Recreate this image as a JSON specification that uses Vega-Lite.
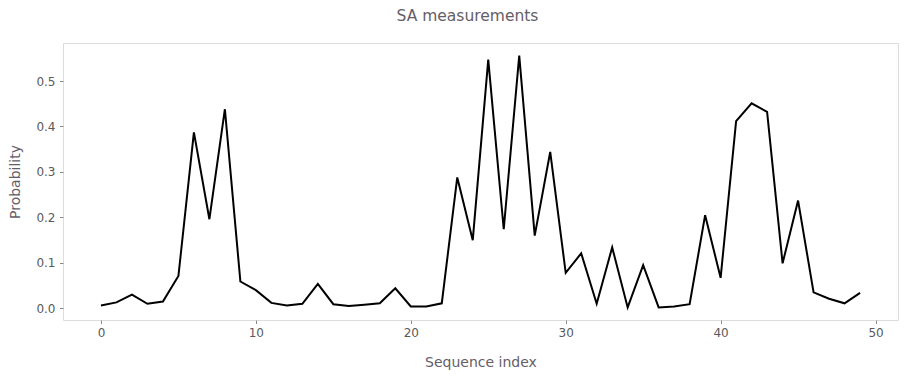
{
  "$schema": "https://vega.github.io/schema/vega-lite/v6.json",
  "autosize": "none",
  "width": 835,
  "height": 277,
  "padding": {"left": 63, "top": 43, "right": 8, "bottom": 56},
  "background": "white",
  "title": {
    "text": "SA measurements",
    "font": "DejaVu Sans",
    "fontSize": 15.5,
    "fontWeight": "normal",
    "color": "#655d67",
    "anchor": "middle",
    "baseline": "alphabetic",
    "offset": 7,
    "dx": -13
  },
  "data": {
    "values": [
      {"i": 0, "p": 0.006},
      {"i": 1, "p": 0.013},
      {"i": 2, "p": 0.030},
      {"i": 3, "p": 0.010},
      {"i": 4, "p": 0.015},
      {"i": 5, "p": 0.071},
      {"i": 6, "p": 0.387},
      {"i": 7, "p": 0.196},
      {"i": 8, "p": 0.438},
      {"i": 9, "p": 0.059},
      {"i": 10, "p": 0.040},
      {"i": 11, "p": 0.012},
      {"i": 12, "p": 0.006},
      {"i": 13, "p": 0.010},
      {"i": 14, "p": 0.054},
      {"i": 15, "p": 0.009},
      {"i": 16, "p": 0.005},
      {"i": 17, "p": 0.008},
      {"i": 18, "p": 0.011},
      {"i": 19, "p": 0.044},
      {"i": 20, "p": 0.004},
      {"i": 21, "p": 0.004},
      {"i": 22, "p": 0.011},
      {"i": 23, "p": 0.288},
      {"i": 24, "p": 0.150},
      {"i": 25, "p": 0.547},
      {"i": 26, "p": 0.174},
      {"i": 27, "p": 0.556},
      {"i": 28, "p": 0.160},
      {"i": 29, "p": 0.344},
      {"i": 30, "p": 0.078},
      {"i": 31, "p": 0.121},
      {"i": 32, "p": 0.010},
      {"i": 33, "p": 0.134},
      {"i": 34, "p": 0.002},
      {"i": 35, "p": 0.095},
      {"i": 36, "p": 0.002},
      {"i": 37, "p": 0.004},
      {"i": 38, "p": 0.009},
      {"i": 39, "p": 0.205},
      {"i": 40, "p": 0.067},
      {"i": 41, "p": 0.412},
      {"i": 42, "p": 0.451},
      {"i": 43, "p": 0.432},
      {"i": 44, "p": 0.099},
      {"i": 45, "p": 0.237},
      {"i": 46, "p": 0.035},
      {"i": 47, "p": 0.021},
      {"i": 48, "p": 0.011},
      {"i": 49, "p": 0.034}
    ]
  },
  "mark": {"type": "line", "color": "black", "strokeWidth": 2, "strokeJoin": "miter", "clip": true},
  "encoding": {
    "x": {
      "field": "i",
      "type": "quantitative",
      "scale": {"domain": [-2.45, 51.45], "nice": false, "zero": false},
      "axis": {
        "title": "Sequence index",
        "values": [0, 10, 20, 30, 40, 50],
        "format": "d",
        "titleBaseline": "alphabetic",
        "titleY": 46,
        "labelPadding": 3.5,
        "tickSize": 3.5
      }
    },
    "y": {
      "field": "p",
      "type": "quantitative",
      "scale": {"domain": [-0.0257, 0.5837], "nice": false, "zero": false},
      "axis": {
        "title": "Probability",
        "values": [0, 0.1, 0.2, 0.3, 0.4, 0.5],
        "format": ".1f",
        "titleBaseline": "alphabetic",
        "titleX": -44,
        "labelPadding": 4.5,
        "tickSize": 3.5
      }
    }
  },
  "config": {
    "view": {"stroke": "#dddddd", "strokeWidth": 1},
    "axis": {
      "grid": false,
      "domain": false,
      "ticks": true,
      "tickColor": "#8a8a8a",
      "tickWidth": 1,
      "labelFont": "DejaVu Sans",
      "labelFontSize": 12,
      "labelColor": "#5a5a5a",
      "titleFont": "DejaVu Sans",
      "titleFontSize": 14,
      "titleFontWeight": "normal",
      "titleColor": "#655d67"
    }
  }
}
